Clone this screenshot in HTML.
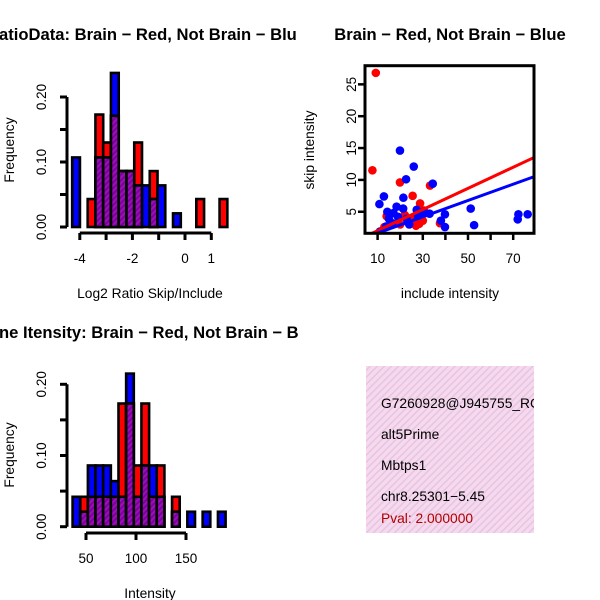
<!DOCTYPE html>
<html><head><meta charset="utf-8"><style>
body{margin:0;background:#fff}
svg{display:block;font-family:"Liberation Sans",sans-serif}
</style></head><body>
<svg id="c" width="600" height="600" viewBox="0 0 600 600">
<defs>
<pattern id="hatch" width="4" height="4" patternUnits="userSpaceOnUse" patternTransform="rotate(45)">
<rect width="4" height="4" fill="#9a10b0"/><rect width="2" height="4" fill="#7a00a0"/>
</pattern>
<pattern id="pinkhatch" width="5" height="5" patternUnits="userSpaceOnUse" patternTransform="rotate(45)">
<rect width="5" height="5" fill="#f8d8f0"/><rect width="1.5" height="5" fill="#e2c8dc"/>
</pattern>
<clipPath id="clipTL"><rect x="0" y="0" width="300" height="300"/></clipPath>
<clipPath id="clipBL"><rect x="0" y="300" width="300" height="300"/></clipPath>
<clipPath id="clipSc"><rect x="365" y="65.7" width="169" height="167.6"/></clipPath>
<clipPath id="clipTxt"><rect x="366" y="366" width="168" height="168"/></clipPath>
</defs>
<g id="tl"></g>
<g id="bl"></g>
<g id="sc"></g>
<g>
<rect x="366" y="366" width="168" height="167" fill="url(#pinkhatch)"/>
<g clip-path="url(#clipTxt)" font-size="13.8">
<text x="381" y="408">G7260928@J945755_RC</text>
<text x="381" y="439">alt5Prime</text>
<text x="381" y="470">Mbtps1</text>
<text x="381" y="501">chr8.25301−5.45</text>
<text x="381" y="523" fill="#b00000">Pval: 2.000000</text>
</g></g>
</svg>
<script>
// ---- Top-left histogram data (Log2 ratio) ----
const tlBins = [0,1,2,3,4,5,6,7,8,9,10,11,12,13,14,15,16,17,18,19];
const tlBlue = [0.107,0,0,0.107,0.107,0.237,0.086,0.086,0.064,0.064,0.043,0.064,0,0.021,0,0,0,0,0,0];
const tlRed  = [0,0,0.043,0.173,0.130,0.171,0.086,0.086,0.130,0,0.086,0,0,0,0,0,0.043,0,0,0.043];
const tlXTicks = [-4,-3,-2,-1,0,1];
const tlXLabels = ["-4","","-2","","0","1"];
const tlYTicks = [0,0.05,0.10,0.15,0.20];
const tlYLabels = ["0.00","","0.10","","0.20"];
// ---- Bottom-left histogram data (Intensity) ----
const blBins = [0,1,2,3,4,5,6,7,8,9,10,11,12,13,14,15,16,17,18,19];
const blBlue = [0.042,0.021,0.086,0.086,0.086,0.064,0.042,0.215,0.042,0.086,0.086,0.042,0,0.021,0,0.021,0,0.021,0,0.021];
const blRed  = [0,0.042,0.042,0.042,0.042,0.042,0.173,0.173,0.086,0.173,0.042,0.086,0,0.042,0,0,0,0,0,0];
const blXTicks = [50,100,150];
const blYTicks = [0,0.05,0.10,0.15,0.20];
const blYLabels = ["0.00","","0.10","","0.20"];
// ---- Scatter data ----
const redX = [9.2,7.7,19.9,25.5,33.2,28.8,14,25.5,28.4,13,24.3,30,37.6,30.5,22,27,20,26];
const redY = [26.8,11.5,9.6,7.5,9.1,6.3,4.3,3.9,3.1,2.6,3.4,3.6,3.2,5.2,4.5,2.8,3.0,3.5];
const blueX = [19.9,26,22.6,34.4,12.8,10.8,21.4,51.2,52.7,39.8,39.8,72.3,72,76.4,14.3,15,18.4,21.3,27.3,30.3,16.5,22.8,27.9,33,13.8,11,38,24,19,17];
const blueY = [14.6,12.1,10.1,9.4,7.4,6.2,7.2,5.5,2.9,4.6,2.6,4.6,3.8,4.6,5.0,3.9,5.8,5.5,5.3,5.0,3.2,3.9,4.4,4.7,2.7,1.9,3.6,3.0,4.2,4.8];
const redFit = [0.37,0.166];
const blueFit = [0.37,0.128];
const scXTicks = [10,20,30,40,50,60,70];
const scXLabels = ["10","","30","","50","","70"];
const scYTicks = [5,10,15,20,25];

const NS="http://www.w3.org/2000/svg";
const TICKF=13.5, LABF=13.8, TITF=16.6;
function mk(parent,tag,attrs){const e=document.createElementNS(NS,tag);for(const k in attrs)e.setAttribute(k,attrs[k]);parent.appendChild(e);return e;}

function hist(g, o){
  const X=v=>o.x0+(v-o.v0)*o.kx, Y=f=>o.y0-f*o.ky;
  const bars=mk(g,'g',{'clip-path':o.clip});
  
  
  o.bins.forEach((b,i)=>{
    const l=X(o.bStart+b*o.bW), w=o.bW*o.kx;
    const bl=o.blue[i], rd=o.red[i], mn=Math.min(bl,rd);
    [[bl,'#0000ff','blue'],[rd,'#ff0000','red'],[mn,'url(#hatch)','overlap']].sort((a,c)=>c[0]-a[0]).forEach(([v,fill,nm])=>{
      if(v<=0)return;
      const r=mk(bars,'rect',{x:l,y:Y(v),width:w,height:Y(0)-Y(v),fill:fill,stroke:'#000','stroke-width':2.6});
      
      
    });
  });
  const ya=mk(g,'g',{});
  
  
  mk(ya,'line',{x1:o.ax,x2:o.ax,y1:Y(o.yT[0]),y2:Y(o.yT[o.yT.length-1]),stroke:'#000','stroke-width':3});
  o.yT.forEach((t,i)=>{
    mk(ya,'line',{x1:o.ax-7,x2:o.ax,y1:Y(t),y2:Y(t),stroke:'#000','stroke-width':3});
    if(o.yL[i]){const tx=mk(ya,'text',{x:0,y:0,'font-size':TICKF,'text-anchor':'middle',transform:`translate(46,${Y(t)}) rotate(-90)`});tx.textContent=o.yL[i];
      
      }
  });
  const xa=mk(g,'g',{});
  
  
  mk(xa,'line',{x1:X(o.xT[0]),x2:X(o.xT[o.xT.length-1]),y1:o.ay,y2:o.ay,stroke:'#000','stroke-width':3});
  o.xT.forEach((t,i)=>{
    mk(xa,'line',{x1:X(t),x2:X(t),y1:o.ay,y2:o.ay+7,stroke:'#000','stroke-width':3});
    if(o.xL[i]){const tx=mk(xa,'text',{x:X(t),y:o.ay+30,'font-size':TICKF,'text-anchor':'middle'});tx.textContent=o.xL[i];
      
      }
  });
  const yt=mk(g,'text',{x:0,y:0,'font-size':LABF,'text-anchor':'middle',transform:`translate(14,${o.ylabY}) rotate(-90)`});yt.textContent='Frequency';
  
  
  const xt=mk(g,'text',{x:150,y:o.xlabY,'font-size':LABF,'text-anchor':'middle'});xt.textContent=o.xlab;
  
  
  const tt=mk(g,'text',{x:o.titleX,y:o.titleY,'font-size':TITF,'font-weight':'bold'});tt.textContent=o.title;
  
  
}

hist(document.getElementById('tl'),{x0:185,v0:0,kx:26.3,y0:227,ky:650,bStart:-4.29,bW:0.295,bins:tlBins,blue:tlBlue,red:tlRed,
  xT:tlXTicks,xL:tlXLabels,yT:tlYTicks,yL:tlYLabels,ax:67,ay:233,ylabY:150,xlabY:298,xlab:'Log2 Ratio Skip/Include',
  title:'atioData: Brain − Red, Not Brain − Blu',titleX:-1,titleY:40,clip:'url(#clipTL)'});
hist(document.getElementById('bl'),{x0:86,v0:50,kx:1.0,y0:526.7,ky:712,bStart:36.6,bW:7.65,bins:blBins,blue:blBlue,red:blRed,
  xT:blXTicks,xL:blXTicks.map(String),yT:blYTicks,yL:blYLabels,ax:67,ay:533,ylabY:455,xlabY:598,xlab:'Intensity',
  title:'ne Itensity: Brain − Red, Not Brain − B',titleX:-1,titleY:338,clip:'url(#clipBL)'});

(function(){
  const g=document.getElementById('sc');
  const X=v=>355+v*2.26, Y=v=>243.6-v*6.37;
  const pts=mk(g,'g',{'clip-path':'url(#clipSc)'});
  
  
  redX.forEach((x,i)=>{const c=mk(pts,'circle',{cx:X(x),cy:Y(redY[i]),r:4.3,fill:'#ff0000'});
    
    });
  blueX.forEach((x,i)=>{const c=mk(pts,'circle',{cx:X(x),cy:Y(blueY[i]),r:4.3,fill:'#0000ff'});
    
    });
  [[redFit,'#ff0000','fit-line-brain'],[blueFit,'#0000ff','fit-line-not-brain']].forEach(([f,col,nm])=>{
    const l=mk(pts,'line',{x1:X(0),y1:Y(f[0]),x2:X(90),y2:Y(f[0]+f[1]*90),stroke:col,'stroke-width':3});
    
    
  });
  const box=mk(g,'rect',{x:365,y:65.7,width:169,height:167.6,fill:'none',stroke:'#000','stroke-width':3});
  
  
  scYTicks.forEach(t=>{
    mk(g,'line',{x1:358,x2:365,y1:Y(t),y2:Y(t),stroke:'#000','stroke-width':2.5});
    const tx=mk(g,'text',{x:0,y:0,'font-size':TICKF,'text-anchor':'middle',transform:`translate(356,${Y(t)}) rotate(-90)`});tx.textContent=String(t);
    
    
  });
  scXTicks.forEach((t,i)=>{
    mk(g,'line',{x1:X(t),x2:X(t),y1:233.3,y2:240,stroke:'#000','stroke-width':2.5});
    if(scXLabels[i]){const tx=mk(g,'text',{x:X(t),y:263,'font-size':TICKF,'text-anchor':'middle'});tx.textContent=scXLabels[i];
      
      }
  });
  const yt=mk(g,'text',{x:0,y:0,'font-size':LABF,'text-anchor':'middle',transform:'translate(314,150) rotate(-90)'});yt.textContent='skip intensity';
  
  
  const xt=mk(g,'text',{x:450,y:298,'font-size':LABF,'text-anchor':'middle'});xt.textContent='include intensity';
  
  
  const tt=mk(g,'text',{x:450,y:40,'font-size':TITF,'font-weight':'bold','text-anchor':'middle'});tt.textContent='Brain − Red, Not Brain − Blue';
  
  
})();
</script>
</body></html>
